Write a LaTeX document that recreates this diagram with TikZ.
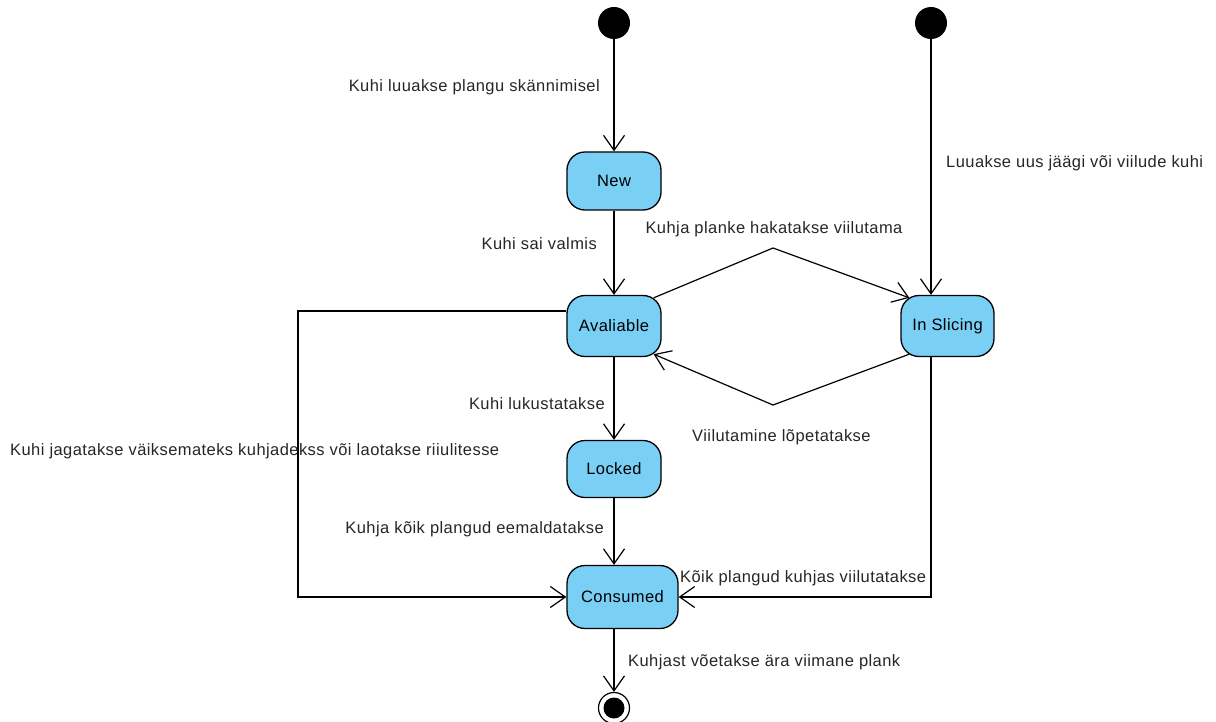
\documentclass[tikz,border=0pt]{standalone}
\usepackage{fontspec}
\setmainfont{Liberation Sans}[LetterSpace=2.6]
\usetikzlibrary{arrows.meta}
\definecolor{stfill}{RGB}{122,207,245}
\tikzset{
  state/.style={draw=black, line width=1.3pt, fill=stfill, rounded corners=18pt,
    inner sep=0pt, font=\fontsize{16.5}{18}\selectfont},
  lbl/.style={inner sep=0pt, font=\fontsize{16.5}{18}\selectfont, text=black!85},
  arr/.style={draw=black, line width=1.2pt, -{Straight Barb[length=15pt,width=21pt,line width=1.2pt]}},
  ln/.style={draw=black, line width=1.2pt}
}
\begin{document}
\begin{tikzpicture}[x=1pt,y=-1pt]
\useasboundingbox (0,0) rectangle (1216,722);

% initial and final pseudo-states
\node[circle, fill=black, minimum size=32pt, inner sep=0pt] (i1) at (614,23) {};
\node[circle, fill=black, minimum size=32pt, inner sep=0pt] (i2) at (931,23) {};
\node[circle, draw=black, line width=1.2pt, fill=white, minimum size=31pt, inner sep=0pt] (fin) at (614,708) {};
\node[circle, fill=black, minimum size=21pt, inner sep=0pt] (finc) at (614,708) {};

% states
\node[state, minimum width=94pt, minimum height=58pt] (new) at (614,181) {New};
\node[state, minimum width=94pt, minimum height=61pt] (av) at (614,326) {Avaliable};
\node[state, minimum width=93pt, minimum height=61pt] (sl) at (947.5,326) {In Slicing};
\node[state, minimum width=94pt, minimum height=57pt] (lk) at (614,469) {Locked};
\node[state, minimum width=111pt, minimum height=63pt] (cons) at (622.5,597) {Consumed};

% bend points
\coordinate (lc) at (298,311);
\coordinate (up) at (773,248);
\coordinate (dn) at (773,405);

% transitions
\draw[arr] (i1) -- (new);
\draw[arr] (new) -- (av);
\draw[arr] (i2) -- (i2 |- sl.north);
\draw[arr] (av) -- (lk);
\draw[arr] (lk.south) -- (lk.south |- cons.north);
\draw[arr] ([yshift=15pt]av.west) -- (lc) |- (cons.west);
\draw[arr] ([xshift=-8pt,yshift=-3pt]av.north east) -- (up) -- ([xshift=9pt,yshift=-3pt]sl.north west);
\draw[arr] ([xshift=9pt,yshift=3pt]sl.south west) -- (dn) -- ([xshift=-8pt,yshift=3pt]av.south east);
\draw[arr] (i2 |- sl.south) |- (cons.east);
\draw[arr] (fin.north |- cons.south) -- (fin.north);

% transition labels
\node[lbl, anchor=east] (t1) at (600,87) {Kuhi luuakse plangu skännimisel};
\node[lbl, anchor=west] (t2) at (946,163) {Luuakse uus jäägi või viilude kuhi};
\node[lbl] (t3) at (774,229) {Kuhja planke hakatakse viilutama};
\node[lbl, anchor=east] (t4) at (597,244) {Kuhi sai valmis};
\node[lbl, anchor=east] (t5) at (605,404) {Kuhi lukustatakse};
\node[lbl, anchor=west] (t6) at (692,437) {Viilutamine lõpetatakse};
\node[lbl, anchor=west] (t7) at (10,451) {Kuhi jagatakse väiksemateks kuhjadekss või laotakse riiulitesse};
\node[lbl, anchor=east] (t8) at (604,529) {Kuhja kõik plangud eemaldatakse};
\node[lbl, anchor=west] (t9) at (680,578) {Kõik plangud kuhjas viilutatakse};
\node[lbl, anchor=west] (t10) at (628,662) {Kuhjast võetakse ära viimane plank};
\end{tikzpicture}
\end{document}
